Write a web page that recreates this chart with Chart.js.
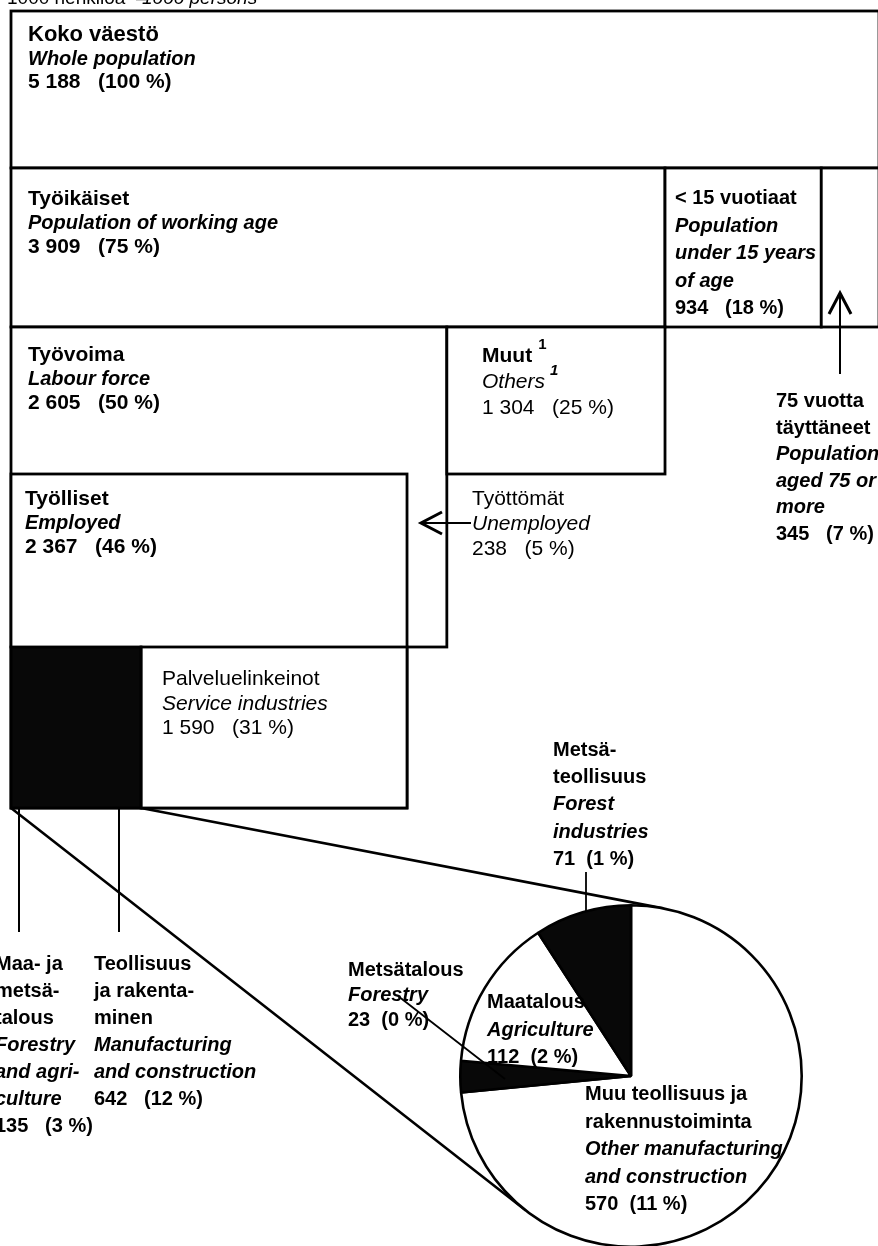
<!DOCTYPE html>
<html>
<head>
<meta charset="utf-8">
<script src="https://cdn.jsdelivr.net/npm/chart.js@4.4.1/dist/chart.umd.min.js"></script>
<style>
  html, body { margin: 0; padding: 0; background: #fff; }
  #wrap { position: relative; width: 878px; height: 1246px; overflow: hidden; background: #fff; }
  #wrap canvas { position: absolute; left: 0; top: 0; }
</style>
</head>
<body>
<div id="wrap">
  <canvas id="boxes" width="880" height="1250"></canvas>
  <canvas id="pie" width="880" height="1250"></canvas>
</div>
<script>
// population groups, 1000 persons ("|" = line break in the label)
const groupsFi = ["Koko väestö", "Työikäiset", "< 15 vuotiaat", "75 vuotta|täyttäneet", "Työvoima", "Muut",
  "Työlliset", "Työttömät", "Palveluelinkeinot", "Maa- ja|metsä-|talous", "Teollisuus|ja rakenta-|minen"];
const groupsEn = ["Whole population", "Population of working age", "Population|under 15 years|of age",
  "Population|aged 75 or|more", "Labour force", "Others", "Employed", "Unemployed", "Service industries",
  "Forestry|and agri-|culture", "Manufacturing|and construction"];
const persons = [5188, 3909, 934, 345, 2605, 1304, 2367, 238, 1590, 135, 642];
const shares = [100, 75, 18, 7, 50, 25, 46, 5, 31, 3, 12];

// manufacturing and primary production broken down (pie)
const industriesFi = ["Metsä-|teollisuus", "Maatalous", "Metsätalous", "Muu teollisuus ja|rakennustoiminta"];
const industriesEn = ["Forest|industries", "Agriculture", "Forestry", "Other manufacturing|and construction"];
const industryPersons = [71, 112, 23, 570];
const industryShares = [1, 2, 0, 11];
const industryDark = [true, false, true, false];

const FAM = "'Liberation Sans', Arial, sans-serif";
const B20 = "bold 20px " + FAM, BI20 = "italic bold 20px " + FAM;
const B21 = "bold 21px " + FAM, B22 = "bold 22px " + FAM;
const R21 = "21px " + FAM, I21 = "italic 21px " + FAM;
const DARK = "#080808";

const fmt = n => n >= 1000 ? Math.floor(n / 1000) + " " + String(n % 1000).padStart(3, "0") : String(n);
const valueLine = (n, s) => fmt(n) + "   (" + s + " %)";

// row edges of the area diagram (y scale units)
const rowEdges = [11, 168, 327, 474, 647, 808];

const sum = a => a.reduce((p, c) => p + c, 0);
const boxes = [
  { from: 0, to: persons[0], r0: 0, r1: 1 },
  { from: 0, to: persons[1], r0: 1, r1: 2 },
  { from: persons[1], to: persons[1] + persons[2], r0: 1, r1: 2 },
  { from: persons[1] + persons[2], to: sum(persons.slice(1, 4)), r0: 1, r1: 2 },
  { from: 0, to: persons[4], r0: 2, r1: 4 },
  { from: persons[4], to: persons[4] + persons[5], r0: 2, r1: 3 },
  { from: 0, to: persons[6], r0: 3, r1: 5 },
  { from: persons[9] + persons[10], to: persons[9] + persons[10] + persons[8], r0: 4, r1: 5 },
  { from: 0, to: persons[9] + persons[10], r0: 4, r1: 5, dark: true }
];

function lines(ctx, x, y, lh, rows) {
  ctx.fillStyle = "#000";
  ctx.textBaseline = "alphabetic";
  ctx.textAlign = "left";
  rows.forEach(([t, f], i) => { ctx.font = f; ctx.fillText(t, x, y + i * lh); });
}
const split = (s, f) => s.split("|").map(t => [t, f]);

function label(ctx, i, x, y, lh, fFi, fEn, fNum) {
  lines(ctx, x, y, lh, [...split(groupsFi[i], fFi), ...split(groupsEn[i], fEn), [valueLine(persons[i], shares[i]), fNum]]);
}

function arrowHead(ctx, tx, ty, dx, dy) {
  // open chevron pointing to (tx,ty); (dx,dy) unit direction of the arrow
  const px = -dy, py = dx;
  ctx.beginPath();
  ctx.moveTo(tx - dx * 21 + px * 11, ty - dy * 21 + py * 11);
  ctx.lineTo(tx, ty);
  ctx.lineTo(tx - dx * 21 - px * 11, ty - dy * 21 - py * 11);
  ctx.stroke();
}

const boxPlugin = {
  id: "boxes",
  afterDraw(chart) {
    const { ctx, scales: { x, y } } = chart;
    ctx.save();
    ctx.strokeStyle = "#000";
    ctx.lineWidth = 2.8;
    boxes.forEach(b => {
      const x0 = x.getPixelForValue(b.from), x1 = x.getPixelForValue(b.to);
      const y0 = y.getPixelForValue(rowEdges[b.r0]), y1 = y.getPixelForValue(rowEdges[b.r1]);
      ctx.fillStyle = b.dark ? DARK : "#fff";
      ctx.fillRect(x0, y0, x1 - x0, y1 - y0);
      ctx.strokeRect(x0, y0, x1 - x0, y1 - y0);
    });

    // heading
    ctx.fillStyle = "#000";
    ctx.font = "19px " + FAM;
    ctx.fillText("1000 henkilöä  –", 7, 4);
    ctx.font = "italic 19px " + FAM;
    ctx.fillText("1000 persons", 142, 4);

    label(ctx, 0, 28, 41, 23.5, B22, BI20, B21);
    label(ctx, 1, 28, 205, 24, B21, BI20, B21);
    label(ctx, 2, 675, 204, 27.5, B20, BI20, B20);
    label(ctx, 4, 28, 361, 24, B21, BI20, B21);
    label(ctx, 6, 25, 505, 24, B21, BI20, B21);
    label(ctx, 8, 162, 685, 24.5, R21, I21, R21);
    label(ctx, 3, 776, 407, 26.6, B20, BI20, B20);
    label(ctx, 7, 472, 505, 25, R21, I21, R21);
    label(ctx, 9, -5, 970, 27, B20, BI20, B20);
    label(ctx, 10, 94, 970, 27, B20, BI20, B20);

    // Muut / Others with footnote marks
    lines(ctx, 482, 362, 26, [[groupsFi[5], B21], [groupsEn[5], I21], [valueLine(persons[5], shares[5]), R21]]);
    ctx.font = B21;
    const w1 = ctx.measureText(groupsFi[5]).width;
    ctx.font = I21;
    const w2 = ctx.measureText(groupsEn[5]).width;
    ctx.font = "bold 15px " + FAM;
    ctx.fillText("1", 482 + w1 + 6, 349);
    ctx.font = "italic bold 15px " + FAM;
    ctx.fillText("1", 482 + w2 + 5, 375);

    // arrows and pointers
    ctx.lineWidth = 2;
    ctx.beginPath();
    ctx.moveTo(840, 374); ctx.lineTo(840, 294);
    ctx.moveTo(471, 523); ctx.lineTo(422, 523);
    const yb = y.getPixelForValue(rowEdges[5]);
    ctx.moveTo(19, yb); ctx.lineTo(19, 932);
    ctx.moveTo(119, yb); ctx.lineTo(119, 932);
    ctx.stroke();
    ctx.lineWidth = 3;
    arrowHead(ctx, 840, 293, 0, -1);
    arrowHead(ctx, 421, 523, -1, 0);
    ctx.restore();
  }
};

const boxChart = new Chart(document.getElementById("boxes"), {
  type: "scatter",
  data: { datasets: [] },
  options: {
    responsive: false,
    animation: false,
    layout: { padding: { left: 11, right: 1, top: 0, bottom: 0 } },
    scales: {
      x: { type: "linear", min: 0, max: persons[0], display: false },
      y: { type: "linear", min: 0, max: 1250, reverse: true, display: false }
    },
    plugins: { legend: { display: false }, tooltip: { enabled: false } }
  },
  plugins: [boxPlugin]
});

function tangent(px, py, cx, cy, r, lower) {
  const dx = px - cx, dy = py - cy, d = Math.hypot(dx, dy);
  const base = Math.atan2(dy, dx), a = Math.acos(r / d);
  const p1 = [cx + r * Math.cos(base + a), cy + r * Math.sin(base + a)];
  const p2 = [cx + r * Math.cos(base - a), cy + r * Math.sin(base - a)];
  return lower ? (p1[1] > p2[1] ? p1 : p2) : (p1[1] < p2[1] ? p1 : p2);
}

const zoomPlugin = {
  id: "zoomLines",
  beforeDatasetsDraw(chart) {
    const { ctx } = chart;
    const arc = chart.getDatasetMeta(0).data[0];
    const { x: bx, y: by } = boxChart.scales;
    const yb = by.getPixelForValue(rowEdges[5]);
    const xl = bx.getPixelForValue(0), xr = bx.getPixelForValue(persons[9] + persons[10]);
    const t1 = tangent(xl, yb, arc.x, arc.y, arc.outerRadius, true);
    const t2 = tangent(xr, yb, arc.x, arc.y, arc.outerRadius, false);
    ctx.save();
    ctx.strokeStyle = "#000";
    ctx.lineWidth = 2.6;
    ctx.beginPath();
    ctx.moveTo(xl, yb); ctx.lineTo(t1[0], t1[1]);
    ctx.moveTo(xr, yb); ctx.lineTo(t2[0], t2[1]);
    ctx.stroke();
    ctx.restore();
  },
  afterDatasetsDraw(chart) {
    const { ctx } = chart;
    ctx.save();
    const pl = (i, x, y, lh) => lines(ctx, x, y, lh, [...split(industriesFi[i], B20), ...split(industriesEn[i], BI20),
      [fmt(industryPersons[i]) + "  (" + industryShares[i] + " %)", B20]]);
    pl(0, 553, 756, 27.2);
    pl(1, 487, 1008, 27.5);
    pl(2, 348, 976, 25);
    pl(3, 585, 1100, 27.5);
    ctx.strokeStyle = "#000";
    ctx.lineWidth = 1.8;
    ctx.beginPath();
    ctx.moveTo(586, 872); ctx.lineTo(586, 912);
    ctx.moveTo(398, 996); ctx.lineTo(505, 1079);
    ctx.stroke();
    ctx.restore();
  }
};

// Chart.js starts at 12 o'clock and runs clockwise; the slices in the picture run anticlockwise
const pieOrder = industryPersons.map((_, i) => i).reverse();
new Chart(document.getElementById("pie"), {
  type: "pie",
  data: {
    labels: pieOrder.map(i => industriesFi[i].replace("|", "")),
    datasets: [{
      data: pieOrder.map(i => industryPersons[i]),
      backgroundColor: pieOrder.map(i => industryDark[i] ? DARK : "#fff"),
      borderColor: "#000",
      borderWidth: 2.6
    }]
  },
  options: {
    responsive: false,
    animation: false,
    layout: { padding: { left: 459, right: 77, top: 904, bottom: 2 } },
    plugins: { legend: { display: false }, tooltip: { enabled: false } }
  },
  plugins: [zoomPlugin]
});
</script>
</body>
</html>
